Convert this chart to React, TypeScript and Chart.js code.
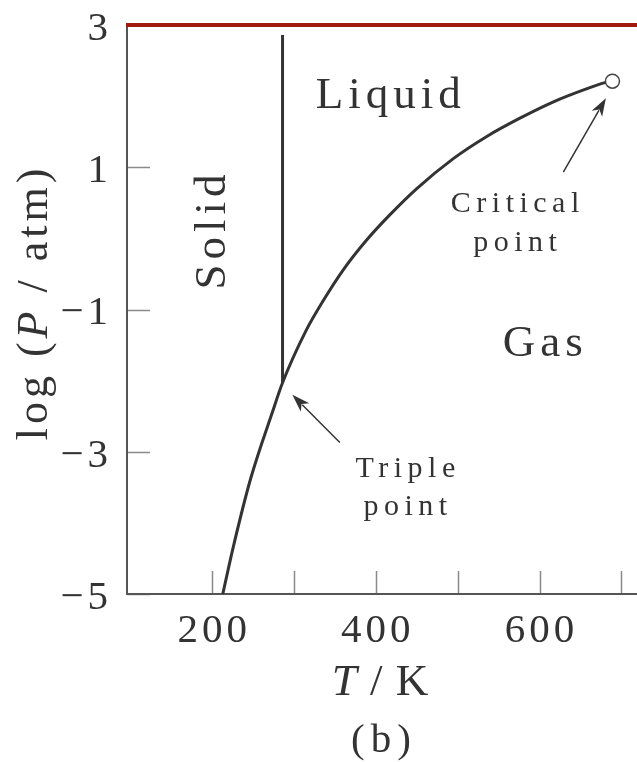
import React, { useEffect, useRef } from 'react';
import { Chart, registerables } from 'chart.js';

Chart.register(...registerables);

// ---- data (T in K, log P in atm) ----
const vaporT = [213, 226, 247, 274, 286, 315, 336, 360, 389, 417, 450, 495, 535, 576, 617, 658, 680, 689];
const vaporLogP = [-5.0, -4.33, -3.38, -2.43, -2.03, -1.29, -0.87, -0.445, -0.02, 0.33, 0.7, 1.125, 1.43, 1.69, 1.92, 2.105, 2.19, 2.21];
const fusionT = [286, 286];
const fusionLogP = [-2.03, 2.86];
const criticalT = [689];
const criticalLogP = [2.21];

const xTicks = [200, 300, 400, 500, 600, 700];
const xTickLabels = ['200', '', '400', '', '600', ''];
const yTicks = [3, 1, -1, -3, -5];
const yTickLabels = ['3', '1', '\u22121', '\u22123', '\u22125'];

const regionLabels = ['Liquid', 'Solid', 'Gas'];
const regionT = [415, 216, 604];
const regionLogP = [1.83, 0.09, -1.66];

const noteLines = [
  ['Critical', 'point'],
  ['Triple', 'point'],
];
const noteT = [570, 436];
const noteLogP = [
  [0.375, -0.173],
  [-3.35, -3.889],
];
const arrowFromT = [629, 356];
const arrowFromLogP = [0.93, -2.87];
const arrowToT = [681, 298];
const arrowToLogP = [1.97, -2.2];

const FONT = '"Liberation Serif", "Times New Roman", serif';
const INK = '#333333';

function setFont(ctx: CanvasRenderingContext2D, size: number, spacing: number, italic = false) {
  ctx.font = `${italic ? 'italic ' : ''}${size}px ${FONT}`;
  (ctx as any).letterSpacing = `${spacing}px`;
}

function drawRich(
  ctx: CanvasRenderingContext2D,
  parts: { t: string; i?: boolean }[],
  cx: number,
  y: number,
  size: number,
  spacing: number
) {
  let total = 0;
  const widths: number[] = [];
  for (const p of parts) {
    setFont(ctx, size, spacing, !!p.i);
    const w = ctx.measureText(p.t).width;
    widths.push(w);
    total += w;
  }
  total -= spacing;
  let x = cx - total / 2;
  ctx.textAlign = 'left';
  parts.forEach((p, k) => {
    setFont(ctx, size, spacing, !!p.i);
    ctx.fillText(p.t, x, y);
    x += widths[k];
  });
}

function centered(ctx: CanvasRenderingContext2D, text: string, cx: number, y: number, size: number, spacing: number) {
  drawRich(ctx, [{ t: text }], cx, y, size, spacing);
}

const decorPlugin = {
  id: 'decor',
  beforeDatasetsDraw(chart: any) {
    const { ctx, chartArea } = chart;
    const xs = chart.scales.x;
    const ys = chart.scales.y;
    const { left, right, top, bottom } = chartArea;
    ctx.save();
    // ticks (inward)
    ctx.strokeStyle = '#8a8a8a';
    ctx.lineWidth = 1.5;
    yTicks.forEach((v) => {
      const py = Math.round(ys.getPixelForValue(v)) + 0.5;
      ctx.beginPath();
      ctx.moveTo(left, py);
      ctx.lineTo(left + 23, py);
      ctx.stroke();
    });
    xTicks.forEach((v) => {
      const px = Math.round(xs.getPixelForValue(v)) + 0.5;
      ctx.beginPath();
      ctx.moveTo(px, bottom);
      ctx.lineTo(px, bottom - 23);
      ctx.stroke();
    });
    // axes
    ctx.strokeStyle = '#555555';
    ctx.lineWidth = 2;
    ctx.beginPath();
    ctx.moveTo(left, top);
    ctx.lineTo(left, bottom);
    ctx.lineTo(right, bottom);
    ctx.stroke();
    // top red rule
    ctx.strokeStyle = '#a3180f';
    ctx.lineWidth = 4;
    ctx.beginPath();
    ctx.moveTo(left - 1, top);
    ctx.lineTo(right, top);
    ctx.stroke();

    // tick labels
    ctx.fillStyle = INK;
    ctx.textBaseline = 'middle';
    setFont(ctx, 41, 4);
    ctx.textAlign = 'right';
    yTicks.forEach((v, k) => {
      ctx.fillText(yTickLabels[k], left - 15, ys.getPixelForValue(v) + 4);
    });
    ctx.textBaseline = 'alphabetic';
    xTicks.forEach((v, k) => {
      if (xTickLabels[k]) centered(ctx, xTickLabels[k], xs.getPixelForValue(v), bottom + 48, 41, 4);
    });

    // axis titles
    const midX = (left + right) / 2;
    drawRich(ctx, [{ t: 'T', i: true }, { t: ' / K' }], midX - 2, bottom + 101, 45, 1);
    centered(ctx, '(b)', midX - 1, bottom + 158, 41, 6);
    ctx.save();
    ctx.translate(47, (top + bottom) / 2 - 5);
    ctx.rotate(-Math.PI / 2);
    drawRich(ctx, [{ t: 'log (' }, { t: 'P', i: true }, { t: ' / atm)' }], 0, 0, 44, 4);
    ctx.restore();
    ctx.restore();
  },
  afterDatasetsDraw(chart: any) {
    const { ctx } = chart;
    const xs = chart.scales.x;
    const ys = chart.scales.y;
    ctx.save();
    ctx.fillStyle = INK;
    ctx.textBaseline = 'alphabetic';
    // region labels
    regionLabels.forEach((lab, k) => {
      const px = xs.getPixelForValue(regionT[k]);
      const py = ys.getPixelForValue(regionLogP[k]);
      if (lab === 'Solid') {
        ctx.save();
        ctx.translate(px, py);
        ctx.rotate(-Math.PI / 2);
        centered(ctx, lab, 0, 0, 45, 5);
        ctx.restore();
      } else {
        centered(ctx, lab, px, py, 45, 5);
      }
    });
    // notes
    noteLines.forEach((lines, k) => {
      const px = xs.getPixelForValue(noteT[k]);
      lines.forEach((ln, j) => {
        centered(ctx, ln, px, ys.getPixelForValue(noteLogP[k][j]), 30, 5.5);
      });
    });
    // arrows
    ctx.strokeStyle = INK;
    ctx.lineWidth = 1.5;
    arrowFromT.forEach((_, k) => {
      const x0 = xs.getPixelForValue(arrowFromT[k]);
      const y0 = ys.getPixelForValue(arrowFromLogP[k]);
      const x1 = xs.getPixelForValue(arrowToT[k]);
      const y1 = ys.getPixelForValue(arrowToLogP[k]);
      const ang = Math.atan2(y1 - y0, x1 - x0);
      const hl = 18;
      const hw = 6;
      const bx = x1 - hl * Math.cos(ang);
      const by = y1 - hl * Math.sin(ang);
      ctx.beginPath();
      ctx.moveTo(x0, y0);
      ctx.lineTo(bx + 4 * Math.cos(ang), by + 4 * Math.sin(ang));
      ctx.stroke();
      ctx.beginPath();
      ctx.moveTo(x1, y1);
      ctx.lineTo(bx - hw * Math.sin(ang), by + hw * Math.cos(ang));
      ctx.lineTo(bx + 5 * Math.cos(ang), by + 5 * Math.sin(ang));
      ctx.lineTo(bx + hw * Math.sin(ang), by - hw * Math.cos(ang));
      ctx.closePath();
      ctx.fill();
    });
    ctx.restore();
  },
};

export default function App() {
  const ref = useRef<HTMLCanvasElement | null>(null);
  useEffect(() => {
    document.body.style.margin = '0';
    const canvas = ref.current;
    if (!canvas) return;
    const chart = new Chart(canvas, {
      type: 'scatter',
      data: {
        datasets: [
          {
            label: 'Critical point',
            data: criticalT.map((t, i) => ({ x: t, y: criticalLogP[i] })),
            pointRadius: 7,
            pointBackgroundColor: '#ffffff',
            pointBorderColor: '#444444',
            pointBorderWidth: 1.5,
            showLine: false,
            clip: false,
          },
          {
            label: 'Vaporization / sublimation',
            data: vaporT.map((t, i) => ({ x: t, y: vaporLogP[i] })),
            showLine: true,
            borderColor: INK,
            borderWidth: 3,
            pointRadius: 0,
            cubicInterpolationMode: 'monotone',
            fill: false,
            clip: false,
          },
          {
            label: 'Fusion',
            data: fusionT.map((t, i) => ({ x: t, y: fusionLogP[i] })),
            showLine: true,
            borderColor: INK,
            borderWidth: 3,
            pointRadius: 0,
            fill: false,
            clip: false,
          },
        ],
      },
      options: {
        animation: false,
        responsive: false,
        devicePixelRatio: 1,
        layout: { autoPadding: false, padding: { left: 127, top: 25, right: 0, bottom: 168 } },
        scales: {
          x: { type: 'linear', min: 96, max: 719, display: false },
          y: { type: 'linear', min: -5, max: 3, display: false },
        },
        plugins: {
          legend: { display: false },
          tooltip: { enabled: false },
        },
      } as any,
      plugins: [decorPlugin],
    });
    return () => chart.destroy();
  }, []);
  return (
    <div style={{ width: 637, height: 762, background: '#ffffff' }}>
      <canvas ref={ref} width={637} height={762} style={{ display: 'block' }} />
    </div>
  );
}
